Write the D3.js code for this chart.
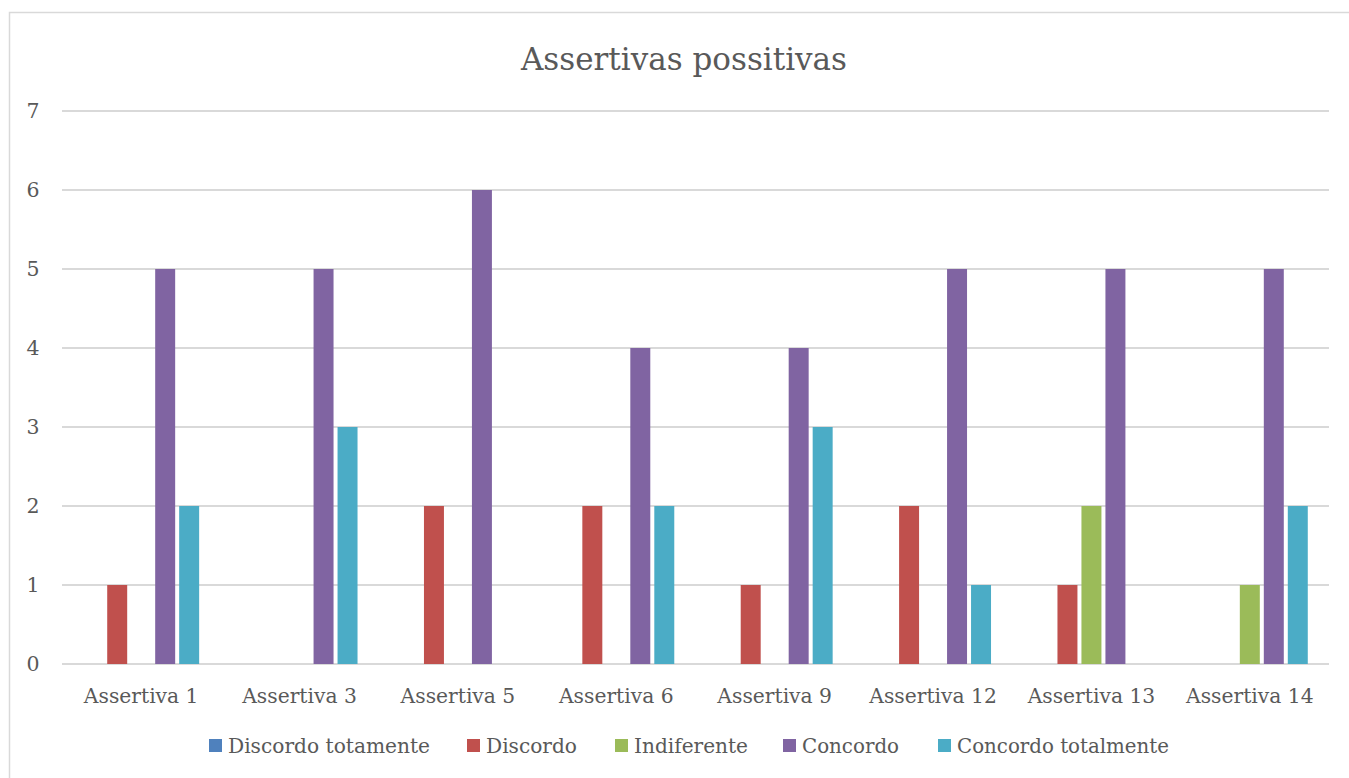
<!DOCTYPE html>
<html>
<head>
<meta charset="utf-8">
<script src="https://cdn.jsdelivr.net/npm/d3@7"></script>
<style>
  html, body { margin: 0; padding: 0; background: #fff; }
  svg { display: block; }
  text { font-family: "DejaVu Serif", "Liberation Serif", serif; fill: #595959; }
</style>
</head>
<body>
<div id="chart"></div>
<script>
const categories = ['Assertiva 1', 'Assertiva 3', 'Assertiva 5', 'Assertiva 6', 'Assertiva 9', 'Assertiva 12', 'Assertiva 13', 'Assertiva 14']
const seriesNames = ['Discordo totamente', 'Discordo', 'Indiferente', 'Concordo', 'Concordo totalmente']
const discordoTotamente = [0, 0, 0, 0, 0, 0, 0, 0]
const discordo = [1, 0, 2, 2, 1, 2, 1, 0]
const indiferente = [0, 0, 0, 0, 0, 0, 2, 1]
const concordo = [5, 5, 6, 4, 4, 5, 5, 5]
const concordoTotalmente = [2, 3, 0, 2, 3, 1, 0, 2]
const yTicks = [0, 1, 2, 3, 4, 5, 6, 7]
const colors = ['#4F81BD', '#C0504D', '#9BBB59', '#8064A2', '#4BACC6']

const seriesValues = [discordoTotamente, discordo, indiferente, concordo, concordoTotalmente]

const W = 1349, H = 778
const margin = { top: 111, right: 20, bottom: 114, left: 62 }
const width = 1329 - margin.left
const height = 664 - margin.top

const svg = d3.select('#chart').append('svg')
  .attr('width', W)
  .attr('height', H)

// chart area border
svg.append('rect')
  .attr('x', 9.5).attr('y', 12.5)
  .attr('width', W + 20).attr('height', H + 20)
  .attr('fill', '#fff')
  .attr('stroke', '#d9d9d9')
  .attr('stroke-width', 1.5)

svg.append('text')
  .attr('x', 684).attr('y', 70)
  .attr('text-anchor', 'middle')
  .style('font-size', '31px')
  .text('Assertivas possitivas')

const g = svg.append('g')
  .attr('transform', 'translate(' + margin.left + ',' + margin.top + ')')

const x0 = d3.scaleBand()
  .domain(categories)
  .range([0, width])
  .paddingInner(0.268)
  .paddingOuter(0.134)

const x1 = d3.scaleBand()
  .domain(seriesNames)
  .range([0, x0.bandwidth()])
  .paddingInner(0.167)
  .paddingOuter(0)

const y = d3.scaleLinear()
  .domain([0, 7])
  .range([height, 0])

// gridlines
g.append('g')
  .selectAll('line')
  .data(yTicks)
  .enter().append('line')
  .attr('x1', 0).attr('x2', width)
  .attr('y1', d => y(d)).attr('y2', d => y(d))
  .attr('stroke', '#d9d9d9')
  .attr('stroke-width', 2)

// y labels
g.append('g')
  .selectAll('text')
  .data(yTicks)
  .enter().append('text')
  .attr('x', -29).attr('y', d => y(d) + 7)
  .attr('text-anchor', 'middle')
  .style('font-size', '20.5px')
  .text(d => d)

// bars
const groups = g.selectAll('.cat')
  .data(categories)
  .enter().append('g')
  .attr('class', 'cat')
  .attr('transform', d => 'translate(' + x0(d) + ',0)')

groups.selectAll('rect')
  .data((c, i) => seriesNames.map((s, j) => ({ s, j, v: seriesValues[j][i] })))
  .enter().append('rect')
  .attr('x', d => x1(d.s))
  .attr('width', x1.bandwidth())
  .attr('y', d => y(d.v))
  .attr('height', d => y(0) - y(d.v))
  .attr('fill', d => colors[d.j])

// x labels
g.append('g')
  .selectAll('text')
  .data(categories)
  .enter().append('text')
  .attr('x', d => x0(d) + x0.bandwidth() / 2)
  .attr('y', height + 39)
  .attr('text-anchor', 'middle')
  .style('font-size', '20.3px')
  .text(d => d)

// legend
const legendX = [209, 467, 615, 783, 938]
const legendW = [202, 91, 114, 97, 212]
const legend = svg.append('g')
  .selectAll('g')
  .data(seriesNames)
  .enter().append('g')
  .attr('transform', (d, i) => 'translate(' + legendX[i] + ',0)')

legend.append('rect')
  .attr('x', 0).attr('y', 739)
  .attr('width', 13).attr('height', 13)
  .attr('fill', (d, i) => colors[i])

legend.append('text')
  .attr('x', 19).attr('y', 753)
  .style('font-size', '21px')
  .attr('textLength', (d, i) => legendW[i])
  .attr('lengthAdjust', 'spacingAndGlyphs')
  .text(d => d)
</script>
</body>
</html>
